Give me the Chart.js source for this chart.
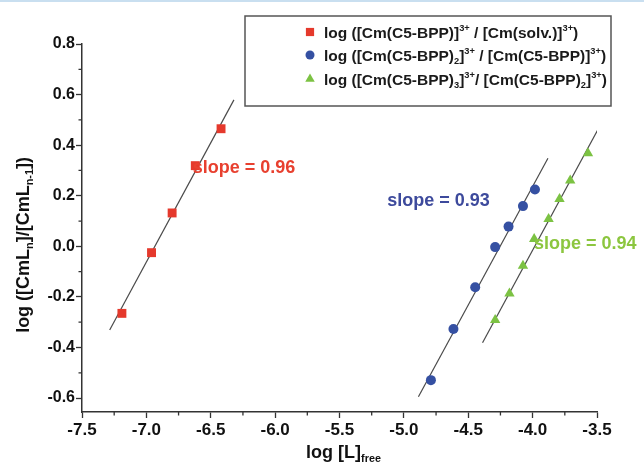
<!DOCTYPE html>
<html lang="en">
<head>
<meta charset="UTF-8">
<title>Cm(C5-BPP) slope analysis</title>
<script src="https://cdn.jsdelivr.net/npm/chart.js"></script>
<style>
  body { margin: 0; background: #fff; }
  canvas { display: block; }
</style>
</head>
<body>
<canvas id="myChart" width="644" height="467"></canvas>
<script>
// data
const redX = [-7.19, -6.96, -6.80, -6.62, -6.42];
const redY = [-0.265, -0.025, 0.132, 0.319, 0.465];
const blueX = [-4.79, -4.615, -4.446, -4.291, -4.187, -4.075, -3.982];
const blueY = [-0.529, -0.327, -0.162, -0.003, 0.078, 0.159, 0.225];
const greenX = [-4.291, -4.180, -4.075, -3.988, -3.876, -3.791, -3.708, -3.570];
const greenY = [-0.291, -0.186, -0.077, 0.029, 0.108, 0.187, 0.260, 0.368];

// fitted lines (end points)
const redFitX = [-7.285, -6.32];
const redFitY = [-0.331, 0.579];
const blueFitX = [-4.887, -3.881];
const blueFitY = [-0.595, 0.348];
const greenFitX = [-4.389, -3.495];
const greenFitY = [-0.381, 0.460];

const xTicks = [-7.5, -7.0, -6.5, -6.0, -5.5, -5.0, -4.5, -4.0, -3.5];
const yTicks = [-0.6, -0.4, -0.2, 0.0, 0.2, 0.4, 0.6, 0.8];

const slopeLabels = ["slope = 0.96", "slope = 0.93", "slope = 0.94"];
const slopeX = [-6.64, -5.13, -3.99];
const slopeY = [0.31, 0.179, 0.009];

const RED = "#e5392c";
const BLUE = "#3550a2";
const GREEN = "#7cc243";
const slopeColors = ["#e8402f", "#3d4a9c", "#8cc63f"];
const FONT = "'Liberation Sans', Arial, sans-serif";

function pts(xs, ys) {
  return xs.map((x, i) => ({ x: x, y: ys[i] }));
}

// text with sub/superscripts: segs = [[text, 'n'|'sub'|'sup'], ...]
function richWidth(ctx, segs, size) {
  let w = 0;
  segs.forEach(s => {
    const fs = s[1] === "n" ? size : size * 0.6;
    ctx.font = "bold " + fs + "px " + FONT;
    w += ctx.measureText(s[0]).width;
  });
  return w;
}
function drawRich(ctx, segs, x, y, size) {
  ctx.textBaseline = "alphabetic";
  ctx.textAlign = "left";
  segs.forEach(s => {
    let fs = size, dy = 0;
    if (s[1] === "sup") { fs = size * 0.6; dy = -size * 0.42; }
    if (s[1] === "sub") { fs = size * 0.6; dy = size * 0.22; }
    ctx.font = "bold " + fs + "px " + FONT;
    ctx.fillText(s[0], x, y + dy);
    x += ctx.measureText(s[0]).width;
  });
}

const legendRows = [
  [["log ([Cm(C5-BPP)]", "n"], ["3+", "sup"], [" / [Cm(solv.)]", "n"], ["3+", "sup"], [")", "n"]],
  [["log ([Cm(C5-BPP)", "n"], ["2", "sub"], ["]", "n"], ["3+", "sup"], [" / [Cm(C5-BPP)]", "n"], ["3+", "sup"], [")", "n"]],
  [["log ([Cm(C5-BPP)", "n"], ["3", "sub"], ["]", "n"], ["3+", "sup"], ["/ [Cm(C5-BPP)", "n"], ["2", "sub"], ["]", "n"], ["3+", "sup"], [")", "n"]]
];

const extras = {
  id: "extras",
  beforeDraw(chart) {
    const ctx = chart.ctx;
    ctx.save();
    ctx.fillStyle = "#c9dff0";
    ctx.fillRect(0, 0, chart.width, 2);
    ctx.restore();
  },
  afterDraw(chart) {
    const ctx = chart.ctx;
    const xs = chart.scales.x, ys = chart.scales.y;
    const area = chart.chartArea;
    ctx.save();

    // minor ticks
    ctx.strokeStyle = "#333";
    ctx.lineWidth = 1.3;
    ctx.beginPath();
    for (let v = -7.25; v < -3.5; v += 0.5) {
      const px = xs.getPixelForValue(v);
      ctx.moveTo(px, area.bottom);
      ctx.lineTo(px, area.bottom + 3.5);
    }
    for (let v = -0.5; v < 0.8; v += 0.2) {
      const py = ys.getPixelForValue(v);
      ctx.moveTo(area.left, py);
      ctx.lineTo(area.left - 3.5, py);
    }
    ctx.stroke();

    // slope labels
    ctx.font = "bold 18px " + FONT;
    ctx.textBaseline = "middle";
    ctx.textAlign = "left";
    slopeLabels.forEach((t, i) => {
      ctx.fillStyle = slopeColors[i];
      ctx.fillText(t, xs.getPixelForValue(slopeX[i]), ys.getPixelForValue(slopeY[i]));
    });

    // axis titles
    ctx.fillStyle = "#111";
    const xt = [["log [L]", "n"], ["free", "sub"]];
    const xw = richWidth(ctx, xt, 18);
    drawRich(ctx, xt, (area.left + area.right) / 2 - xw / 2 + 4, 458, 18);

    const yt = [["log ([CmL", "n"], ["n", "sub"], ["]/[CmL", "n"], ["n-1", "sub"], ["])", "n"]];
    const yw = richWidth(ctx, yt, 18);
    ctx.save();
    ctx.translate(29, 245);
    ctx.rotate(-Math.PI / 2);
    drawRich(ctx, yt, -yw / 2, 0, 18);
    ctx.restore();

    // legend box
    ctx.fillStyle = "#fff";
    ctx.fillRect(245, 16, 366, 90);
    ctx.strokeStyle = "#555";
    ctx.lineWidth = 1.5;
    ctx.strokeRect(245, 16, 366, 90);
    const rowY = [32, 55, 79];
    chart.data.datasets.slice(0, 3).forEach((ds, i) => {
      ctx.fillStyle = ds.backgroundColor;
      ctx.strokeStyle = ds.backgroundColor;
      Chart.helpers.drawPoint(ctx, {
        pointStyle: ds.pointStyle, radius: ds.pointRadius - 0.5, rotation: 0, borderWidth: 0
      }, 310, rowY[i]);
      ctx.fillStyle = "#1a1a1a";
      drawRich(ctx, legendRows[i], 324, rowY[i] + 5.5, 15.5);
    });
    ctx.restore();
  }
};

const config = {
  type: "scatter",
  data: {
    datasets: [
      { data: pts(redX, redY), pointStyle: "rect", pointRadius: 6.3, backgroundColor: RED, borderWidth: 0 },
      { data: pts(blueX, blueY), pointStyle: "circle", pointRadius: 5, backgroundColor: BLUE, borderWidth: 0 },
      { data: pts(greenX, greenY), pointStyle: "triangle", pointRadius: 6, backgroundColor: GREEN, borderWidth: 0 },
      { data: pts(redFitX, redFitY), showLine: true, pointRadius: 0, borderColor: "#4a4a4a", borderWidth: 1.2 },
      { data: pts(blueFitX, blueFitY), showLine: true, pointRadius: 0, borderColor: "#4a4a4a", borderWidth: 1.2 },
      { data: pts(greenFitX, greenFitY), showLine: true, pointRadius: 0, borderColor: "#4a4a4a", borderWidth: 1.2 }
    ]
  },
  options: {
    responsive: false,
    animation: false,
    events: [],
    layout: { padding: { top: 44, right: 47, left: 0, bottom: 0 } },
    plugins: { legend: { display: false }, tooltip: { enabled: false } },
    scales: {
      x: {
        type: "linear",
        min: -7.5, max: -3.5,
        afterBuildTicks: s => { s.ticks = xTicks.map(v => ({ value: v })); },
        afterFit: s => { s.height = 55; },
        grid: { drawOnChartArea: false, drawTicks: true, tickLength: 6, color: "#333", tickWidth: 1.3 },
        border: { display: true, color: "#333", width: 1.5 },
        ticks: {
          padding: 2, color: "#111",
          font: { family: FONT, size: 17, weight: "bold" },
          callback: v => v.toFixed(1)
        }
      },
      y: {
        type: "linear",
        min: -0.655, max: 0.8,
        afterBuildTicks: s => { s.ticks = yTicks.map(v => ({ value: v })); },
        afterFit: s => { s.width = 82; },
        grid: { drawOnChartArea: false, drawTicks: true, tickLength: 6, color: "#333", tickWidth: 1.3 },
        border: { display: true, color: "#333", width: 1.5 },
        ticks: {
          padding: 1, color: "#111",
          font: { family: FONT, size: 16, weight: "bold" },
          callback: v => v.toFixed(1)
        }
      }
    }
  },
  plugins: [extras]
};

new Chart(document.getElementById("myChart"), config);
</script>
</body>
</html>
